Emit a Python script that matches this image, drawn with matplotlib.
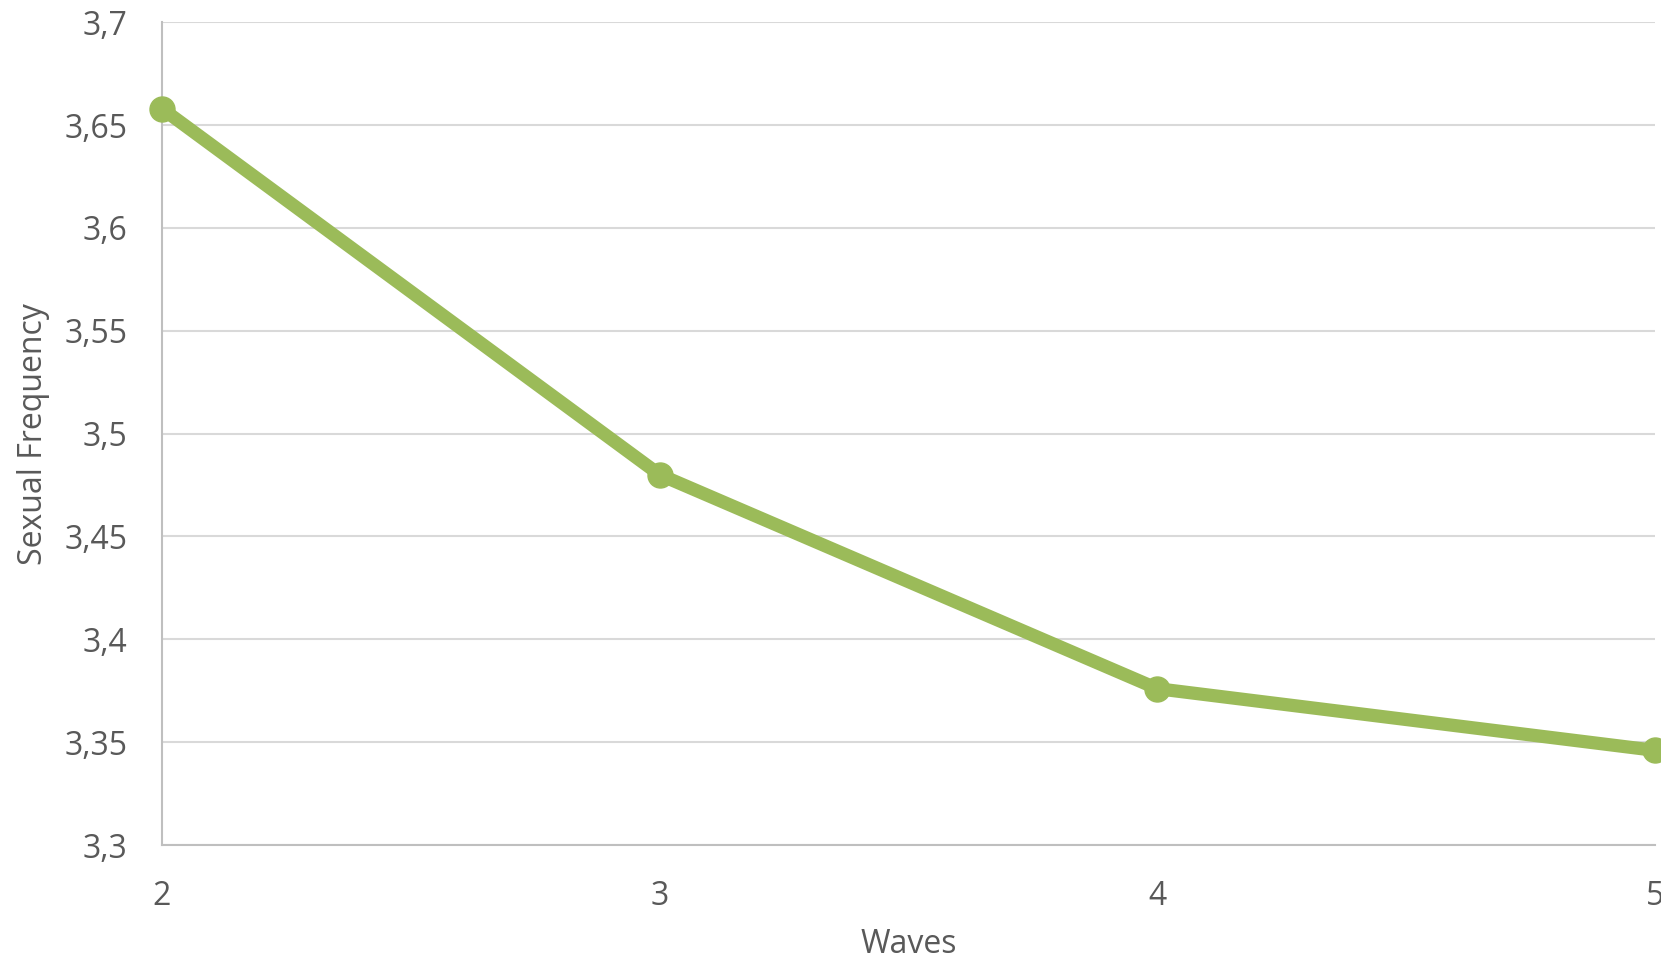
import matplotlib.pyplot as plt
from matplotlib.ticker import FuncFormatter

waves = [2, 3, 4, 5]
frequency = [3.658, 3.480, 3.376, 3.346]
y_ticks = [3.3, 3.35, 3.4, 3.45, 3.5, 3.55, 3.6, 3.65, 3.7]

text_color = "#595959"
plt.rcParams['font.family'] = ['Open Sans', 'DejaVu Sans']

fig = plt.figure(figsize=(16.61, 9.63), dpi=100)
ax = fig.add_axes([0.0975, 0.1225, 0.899, 0.8545])

ax.plot(waves, frequency, color="#9BBB59", linewidth=9.5, marker="o",
        markersize=18, clip_on=False, zorder=3, solid_capstyle="round")

ax.set_xlim(2, 5)
ax.set_ylim(3.3, 3.7)
ax.set_xticks(waves)
ax.set_yticks(y_ticks)
ax.yaxis.set_major_formatter(FuncFormatter(lambda v, p: ("%g" % v).replace(".", ",")))

ax.grid(axis="y", color="#D9D9D9", linewidth=1.5)
ax.set_axisbelow(True)
for side in ["top", "right"]:
    ax.spines[side].set_visible(False)
for side in ["left", "bottom"]:
    ax.spines[side].set_color("#BFBFBF")
    ax.spines[side].set_linewidth(1.5)

ax.tick_params(length=0, labelsize=23, labelcolor=text_color, pad=25)
ax.set_xlabel("Waves", fontsize=23, color=text_color, labelpad=11)
ax.set_ylabel("Sexual Frequency", fontsize=23, color=text_color, labelpad=10)

fig.savefig("out.png", dpi=100)
